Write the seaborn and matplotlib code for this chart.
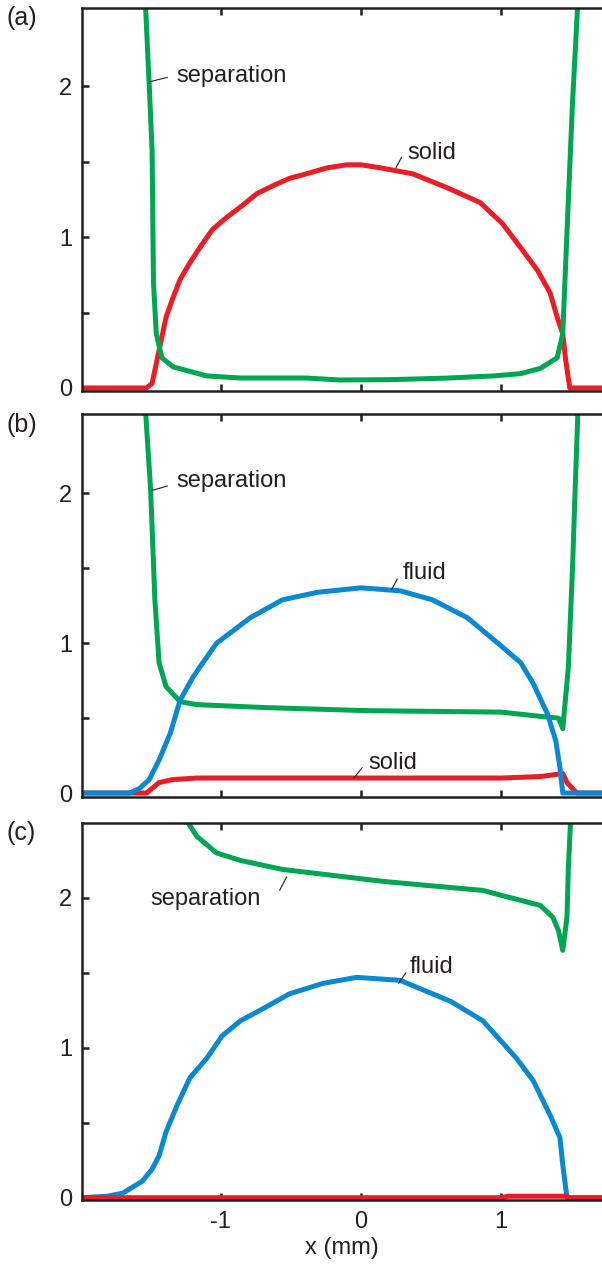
import pandas as pd
import matplotlib
matplotlib.use("Agg")
import matplotlib.pyplot as plt
import seaborn as sns

# Data (x in mm)
a_solid_x = [-1.99, -1.53, -1.49, -1.44, -1.39, -1.34, -1.29, -1.22, -1.15, -1.06, -0.96, -0.86, -0.74, -0.63,
             -0.51, -0.39, -0.24, -0.10, 0.00, 0.14, 0.37, 0.61, 0.85, 1.01, 1.14, 1.26, 1.35, 1.40, 1.44,
             1.46, 1.49, 1.72]
a_solid_y = [0, 0, 0.03, 0.25, 0.47, 0.60, 0.72, 0.83, 0.93, 1.05, 1.13, 1.20, 1.29, 1.34,
             1.39, 1.42, 1.46, 1.48, 1.48, 1.46, 1.42, 1.33, 1.23, 1.09, 0.93, 0.78, 0.63, 0.47, 0.36,
             0.19, 0.0, 0]
a_sep_x = [-1.54, -1.51, -1.49, -1.48, -1.46, -1.42, -1.34, -1.22, -1.10, -0.86, -0.39, -0.15, 0.20, 0.60,
           0.95, 1.14, 1.28, 1.40, 1.44, 1.47, 1.51, 1.55]
a_sep_y = [2.6, 2.0, 1.58, 0.70, 0.36, 0.20, 0.14, 0.11, 0.08, 0.066, 0.066, 0.053, 0.055, 0.065,
           0.08, 0.095, 0.13, 0.20, 0.36, 1.03, 1.9, 2.6]

b_fluid_x = [-1.99, -1.65, -1.58, -1.51, -1.44, -1.36, -1.29, -1.20, -1.15, -1.03, -0.79, -0.56, -0.31, 0.00,
             0.28, 0.51, 0.76, 0.99, 1.14, 1.23, 1.33, 1.39, 1.42, 1.44, 1.72]
b_fluid_y = [0, 0, 0.03, 0.09, 0.22, 0.40, 0.62, 0.77, 0.84, 1.00, 1.17, 1.29, 1.34, 1.37,
             1.35, 1.29, 1.17, 0.99, 0.87, 0.73, 0.53, 0.35, 0.17, 0.0, 0]
b_solid_x = [-1.99, -1.53, -1.44, -1.34, -1.17, -0.50, 0.50, 1.00, 1.28, 1.44, 1.47, 1.54, 1.72]
b_solid_y = [0, 0, 0.07, 0.09, 0.10, 0.10, 0.10, 0.10, 0.11, 0.13, 0.07, 0, 0]
b_sep_x = [-1.54, -1.50, -1.47, -1.44, -1.39, -1.29, -1.17, -0.67, 0.04, 1.00, 1.30, 1.41, 1.44, 1.48,
           1.51, 1.53, 1.55]
b_sep_y = [2.6, 2.02, 1.29, 0.87, 0.71, 0.61, 0.59, 0.57, 0.55, 0.54, 0.51, 0.50, 0.43, 0.84,
           1.51, 2.07, 2.6]

c_fluid_x = [-1.99, -1.81, -1.70, -1.56, -1.49, -1.44, -1.39, -1.31, -1.22, -1.10, -0.99, -0.86, -0.70,
             -0.51, -0.27, -0.03, 0.28, 0.64, 0.87, 1.11, 1.23, 1.35, 1.42, 1.44, 1.47, 1.72]
c_fluid_y = [0.0, 0.01, 0.03, 0.11, 0.19, 0.28, 0.44, 0.62, 0.80, 0.93, 1.08, 1.18, 1.26,
             1.36, 1.43, 1.47, 1.45, 1.31, 1.18, 0.93, 0.78, 0.55, 0.40, 0.22, 0.0, 0.0]
c_solid_x = [-1.99, 1.00, 1.05, 1.45, 1.50, 1.72]
c_solid_y = [0, 0, 0.01, 0.01, 0, 0]
c_sep_x = [-1.30, -1.24, -1.17, -1.03, -0.86, -0.56, -0.20, 0.16, 0.51, 0.87, 0.99, 1.28, 1.37, 1.41,
           1.44, 1.47, 1.48, 1.50]
c_sep_y = [2.65, 2.51, 2.41, 2.30, 2.25, 2.19, 2.15, 2.11, 2.08, 2.05, 2.02, 1.95, 1.87, 1.78,
           1.65, 1.87, 2.2, 2.6]

x_ticks = [-1, 0, 1]
y_ticks = [0, 0.5, 1, 1.5, 2]
y_ticklabels = ['0', '', '1', '', '2']
panel_labels = ['(a)', '(b)', '(c)']

colors = {'solid': '#ec1c24', 'separation': '#00a651', 'fluid': '#0a88d0'}

sns.set_style("ticks")
plt.rcParams['font.family'] = ['Liberation Sans', 'DejaVu Sans']
ink = '#231f20'

fig = plt.figure(figsize=(6.02, 12.69), dpi=100)
# axes boxes [left, bottom, width, height] in figure fraction
boxes = [[0.1362, 0.6919, 0.8638, 0.3018],
         [0.1362, 0.3719, 0.8638, 0.3018],
         [0.1362, 0.0544, 0.8638, 0.2971]]
ylims = [(-0.02, 2.52), (-0.027, 2.53), (-0.015, 2.50)]
label_y = [18, 425, 833]

panels = [
    [('solid', a_solid_x, a_solid_y), ('separation', a_sep_x, a_sep_y)],
    [('solid', b_solid_x, b_solid_y), ('separation', b_sep_x, b_sep_y), ('fluid', b_fluid_x, b_fluid_y)],
    [('fluid', c_fluid_x, c_fluid_y), ('solid', c_solid_x, c_solid_y), ('separation', c_sep_x, c_sep_y)],
]

# (text, point on curve, leader end, text position)
notes = [
    [('separation', (-1.51, 2.03), (-1.38, 2.06), (-1.32, 2.07)),
     ('solid', (0.25, 1.46), (0.29, 1.53), (0.33, 1.56))],
    [('separation', (-1.49, 2.02), (-1.38, 2.05), (-1.32, 2.08)),
     ('fluid', (0.22, 1.36), (0.26, 1.43), (0.30, 1.47)),
     ('solid', (-0.05, 0.10), (0.01, 0.17), (0.05, 0.20))],
    [('separation', (-0.53, 2.14), (-0.58, 2.05), (-1.50, 1.99)),
     ('fluid', (0.27, 1.43), (0.32, 1.50), (0.35, 1.54))],
]

fs = 17
for i in range(3):
    ax = fig.add_axes(boxes[i])
    for name, xs, ys in panels[i]:
        df = pd.DataFrame({'x': xs, 'y': ys})
        sns.lineplot(data=df, x='x', y='y', ax=ax, color=colors[name], lw=3.6,
                     sort=False, estimator=None, legend=False)
    for text, p0, p1, pt in notes[i]:
        ax.annotate('', xy=p0, xytext=p1,
                    arrowprops=dict(arrowstyle='-', lw=0.8, color=ink, shrinkA=0, shrinkB=0))
        ax.text(pt[0], pt[1], text, fontsize=fs, color=ink, ha='left', va='center')

    ax.set_xlim(-1.99, 1.72)
    ax.set_ylim(*ylims[i])
    ax.set_xticks(x_ticks)
    ax.set_yticks(y_ticks)
    ax.set_yticklabels(y_ticklabels)
    ax.set_ylabel(None)
    ax.tick_params(axis='x', direction='in', top=True, bottom=True, length=5, width=1.8,
                   color=ink, labelsize=fs, labelcolor=ink, pad=8)
    ax.tick_params(axis='y', direction='in', left=True, right=False, length=5, width=1.8,
                   color=ink, labelsize=fs, labelcolor=ink, pad=7)
    for s in ['left', 'top', 'bottom']:
        ax.spines[s].set_color(ink)
        ax.spines[s].set_linewidth(1.8)
    ax.spines['right'].set_visible(False)
    if i < 2:
        ax.set_xticklabels([])
        ax.set_xlabel(None)
    else:
        ax.set_xticklabels(['-1', '0', '1'])
        ax.set_xlabel('x (mm)', fontsize=fs, color=ink, labelpad=3)
    fig.text(7 / 602, 1 - label_y[i] / 1269, panel_labels[i], fontsize=18, color=ink, va='center')

plt.savefig('out.png', dpi=100)
